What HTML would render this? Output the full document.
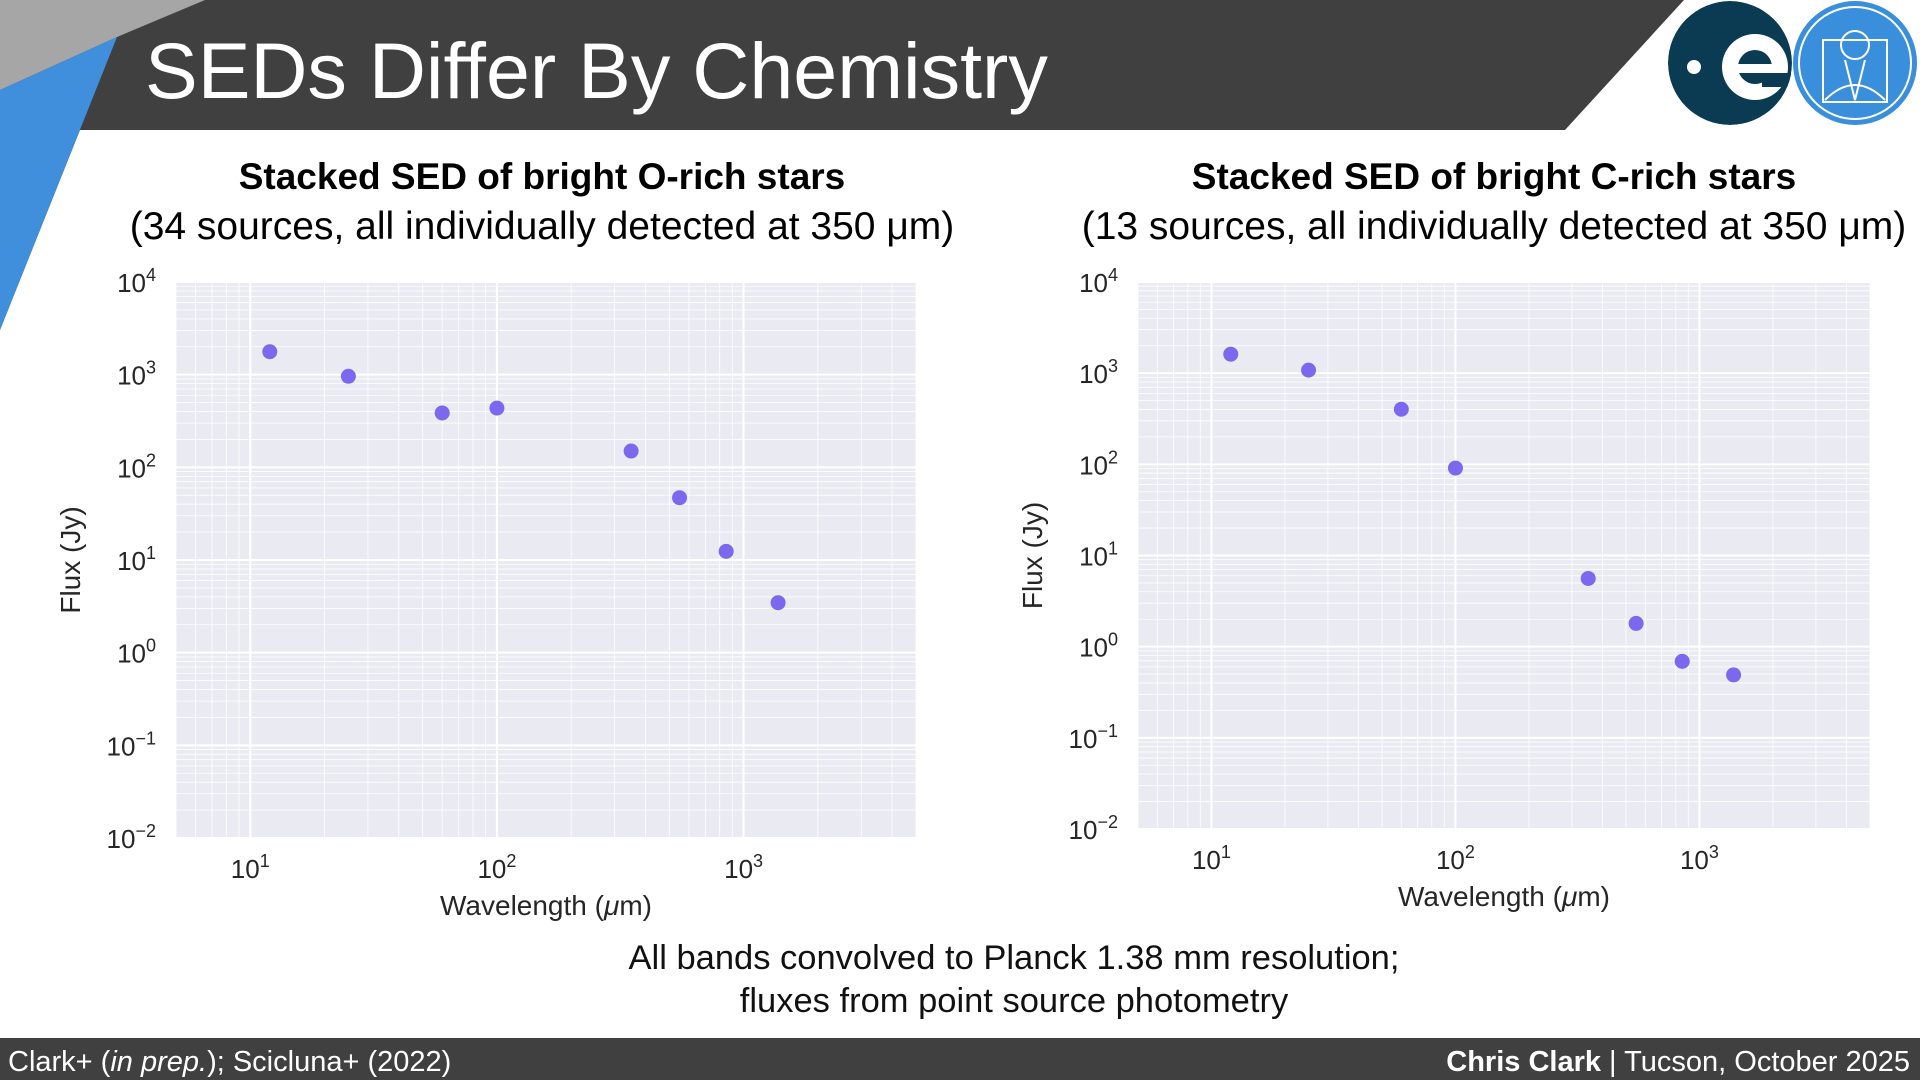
<!DOCTYPE html>
<html><head><meta charset="utf-8">
<style>
html,body{margin:0;padding:0;background:#fff;}
svg{display:block;font-family:"Liberation Sans",sans-serif;}
</style></head>
<body>
<svg id="root" width="1920" height="1080" viewBox="0 0 1920 1080" xmlns="http://www.w3.org/2000/svg">
  <defs><clipPath id="esaclip"><circle cx="1730" cy="63" r="62"/></clipPath></defs>
  <polygon points="0,0 1684,0 1565,130 80,130 0,330" fill="#404040"/>
  <polygon points="0,0 205,0 117,37 0,90" fill="#a6a6a6"/>
  <polygon points="0,90 117,37 0,330" fill="#3f8fdc"/>
  <text x="145" y="98" font-size="79" fill="#fff">SEDs Differ By Chemistry</text>
  <g clip-path="url(#esaclip)">
    <circle cx="1730" cy="63" r="62" fill="#0b3a53"/>
    <circle cx="1694" cy="67" r="7" fill="#fff"/>
    <circle cx="1755" cy="67" r="33" fill="#fff"/>
    <circle cx="1755" cy="67" r="17" fill="#0b3a53"/>
    <rect x="1735" y="64" width="50" height="9" fill="#fff"/>
    <rect x="1762" y="73" width="40" height="14" fill="#0b3a53"/>
  </g>
  <g>
    <circle cx="1855" cy="63" r="62" fill="#3a8fdc"/>
    <circle cx="1855" cy="63" r="56" fill="none" stroke="#fff" stroke-width="2"/>
    <rect x="1823" y="40" width="64" height="62" fill="none" stroke="#fff" stroke-width="2"/>
    <circle cx="1855" cy="45" r="14" fill="none" stroke="#fff" stroke-width="2"/>
    <path d="M1825 100 Q1855 70 1885 100 M1845 60 L1855 100 L1865 60" fill="none" stroke="#fff" stroke-width="2"/>
  </g>
  <g id="charts"></g>
  <text x="1014" y="969" font-size="34.5" text-anchor="middle" fill="#111">All bands convolved to Planck 1.38 mm resolution;</text>
  <text x="1014" y="1012" font-size="34.5" text-anchor="middle" fill="#111">fluxes from point source photometry</text>
  <rect x="0" y="1038" width="1920" height="42" fill="#404040"/>
  <text x="8" y="1071" font-size="29" fill="#fff">Clark+ (<tspan font-style="italic">in prep.</tspan>); Scicluna+ (2022)</text>
  <text x="1910" y="1071" font-size="29" fill="#fff" text-anchor="end"><tspan font-weight="bold">Chris Clark</tspan> | Tucson, October 2025</text>
</svg>
<script>
const wavelengths = [12, 25, 60, 100, 350, 550, 850, 1380];
const oRichFlux = [1770, 960, 386, 436, 150, 47, 12.4, 3.46];
const cRichFlux = [1615, 1080, 402, 91, 5.6, 1.8, 0.69, 0.49];
const xTickExps = [1, 2, 3];
const yTickExps = [-2, -1, 0, 1, 2, 3, 4];
const xDomain = [5, 5000];
const yDomain = [0.01, 10000];

const NS = "http://www.w3.org/2000/svg";
const charts = document.getElementById('charts');
function mk(tag, attrs, parent){const e=document.createElementNS(NS,tag);for(const k in attrs)e.setAttribute(k,attrs[k]);parent.appendChild(e);return e;}

function drawChart(cfg, flux){
  const g = mk('g', {}, charts);
  
  
  const {x0,x1,y0,y1} = cfg;
  const xs = v => x0 + (Math.log10(v)-Math.log10(xDomain[0]))/(Math.log10(xDomain[1])-Math.log10(xDomain[0]))*(x1-x0);
  const ys = v => y1 - (Math.log10(v)-Math.log10(yDomain[0]))/(Math.log10(yDomain[1])-Math.log10(yDomain[0]))*(y1-y0);
  const t1 = mk('text', {x:cfg.cx, y:y0-93, 'font-size':37, 'font-weight':'bold', 'text-anchor':'middle', fill:'#000'}, g);
  t1.textContent = cfg.title;
  
  
  const t2 = mk('text', {x:cfg.cx, y:y0-43, 'font-size':39, 'text-anchor':'middle', fill:'#000'}, g);
  t2.textContent = cfg.subtitle;
  
  
  const bg = mk('rect', {x:x0, y:y0, width:x1-x0, height:y1-y0, fill:'#eaeaf2'}, g);
  
  
  for(let e=0;e<=4;e++){for(let m=1;m<10;m++){const v=m*Math.pow(10,e);if(v<xDomain[0]||v>xDomain[1])continue;
    const X=xs(v); mk('line',{x1:X,x2:X,y1:y0,y2:y1,stroke:'#fff','stroke-width':m===1?2:0.8},g);}}
  for(let e=-2;e<=4;e++){for(let m=1;m<10;m++){const v=m*Math.pow(10,e);if(v<yDomain[0]||v>yDomain[1])continue;
    const Y=ys(v); mk('line',{x1:x0,x2:x1,y1:Y,y2:Y,stroke:'#fff','stroke-width':m===1?2:0.8},g);}}
  xTickExps.forEach(e=>{
    const t = mk('text',{x:xs(Math.pow(10,e)), y:y1+40, 'font-size':26, 'text-anchor':'middle', fill:'#262626'}, g);
    t.innerHTML = '10<tspan dy="-11" font-size="18">'+e+'</tspan>';
    
    
  });
  yTickExps.forEach(e=>{
    const t = mk('text',{x:x0-20, y:ys(Math.pow(10,e))+10, 'font-size':26, 'text-anchor':'end', fill:'#262626'}, g);
    t.innerHTML = '10<tspan dy="-11" font-size="18">'+(e<0?'\u2212'+(-e):e)+'</tspan>';
    
    
  });
  const xl = mk('text',{x:(x0+x1)/2, y:y1+77, 'font-size':28, 'text-anchor':'middle', fill:'#262626'}, g);
  xl.innerHTML = 'Wavelength (<tspan font-style="italic">\u03bc</tspan>m)';
  
  
  const yl = mk('text',{x:0,y:0,'font-size':28,'text-anchor':'middle',fill:'#262626',transform:'translate('+(x0-96)+','+((y0+y1)/2)+') rotate(-90)'}, g);
  yl.textContent = 'Flux (Jy)';
  
  
  wavelengths.forEach((w,i)=>{
    const c = mk('circle',{cx:xs(w), cy:ys(flux[i]), r:7.5, fill:'#7b68ee'}, g);
    
    
  });
}
drawChart({name:'o-rich-sed-chart', x0:176, x1:916, y0:282, y1:838, cx:542,
  title:'Stacked SED of bright O-rich stars', subtitle:'(34 sources, all individually detected at 350 \u03bcm)'}, oRichFlux);
drawChart({name:'c-rich-sed-chart', x0:1138, x1:1870, y0:282, y1:829, cx:1494,
  title:'Stacked SED of bright C-rich stars', subtitle:'(13 sources, all individually detected at 350 \u03bcm)'}, cRichFlux);
</script>
</body></html>
